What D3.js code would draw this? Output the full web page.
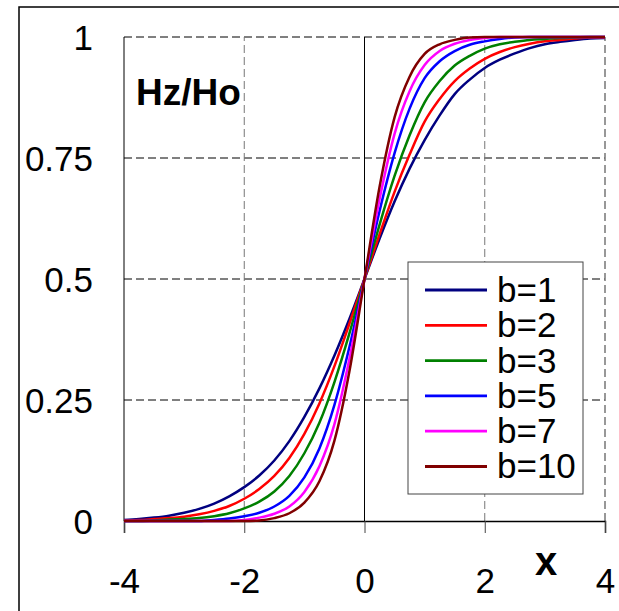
<!DOCTYPE html>
<html lang="en">

<head>
    <meta charset="UTF-8">
    <title>Hz/Ho</title>
    <style>
        body {
            padding: 0;
            margin: 0;
            background: #fff;
        }
    </style>
</head>

<body>
    <script src="https://d3js.org/d3.v7.min.js"></script>
    <script>
        // x positions shared by every curve
        const xs = [-4, -3.75, -3.5, -3.25, -3, -2.75, -2.5, -2.25, -2, -1.75, -1.5, -1.25, -1, -0.75, -0.5, -0.25,
            0, 0.25, 0.5, 0.75, 1, 1.25, 1.5, 1.75, 2, 2.25, 2.5, 2.75, 3, 3.25, 3.5, 3.75, 4]

        // Hz/Ho, one array per b
        const b1 = [0.002, 0.004, 0.007, 0.011, 0.017, 0.025, 0.036, 0.051, 0.070, 0.094, 0.125, 0.165, 0.215, 0.274, 0.342, 0.418,
            0.5, 0.583, 0.660, 0.728, 0.787, 0.838, 0.882, 0.912, 0.936, 0.953, 0.966, 0.977, 0.985, 0.990, 0.994, 0.997, 0.998]
        const b2 = [0.001, 0.002, 0.004, 0.006, 0.009, 0.014, 0.021, 0.031, 0.046, 0.066, 0.093, 0.130, 0.180, 0.243, 0.320, 0.408,
            0.5, 0.592, 0.680, 0.757, 0.825, 0.872, 0.909, 0.935, 0.955, 0.969, 0.979, 0.986, 0.991, 0.994, 0.997, 0.999, 0.999]
        const b3 = [0, 0, 0.001, 0.003, 0.004, 0.006, 0.010, 0.016, 0.026, 0.040, 0.061, 0.093, 0.140, 0.203, 0.287, 0.388,
            0.5, 0.612, 0.713, 0.797, 0.865, 0.909, 0.941, 0.961, 0.976, 0.985, 0.990, 0.994, 0.996, 0.998, 0.999, 1, 1]
        const b5 = [0, 0, 0, 0, 0, 0, 0.002, 0.005, 0.010, 0.017, 0.030, 0.052, 0.090, 0.150, 0.240, 0.360,
            0.5, 0.640, 0.760, 0.852, 0.915, 0.950, 0.971, 0.984, 0.991, 0.996, 0.999, 1, 1, 1, 1, 1, 1]
        const b7 = [0, 0, 0, 0, 0, 0, 0, 0, 0.002, 0.007, 0.015, 0.030, 0.060, 0.113, 0.200, 0.335,
            0.5, 0.665, 0.800, 0.888, 0.942, 0.971, 0.986, 0.994, 0.998, 1, 1, 1, 1, 1, 1, 1, 1]
        const b10 = [0, 0, 0, 0, 0, 0, 0, 0, 0, 0.001, 0.006, 0.016, 0.038, 0.082, 0.166, 0.310,
            0.5, 0.690, 0.834, 0.918, 0.965, 0.985, 0.994, 0.999, 1, 1, 1, 1, 1, 1, 1, 1, 1]

        const names = ['b=1', 'b=2', 'b=3', 'b=5', 'b=7', 'b=10']
        const colors = ['#000080', '#ff0000', '#008000', '#0000ff', '#ff00ff', '#800000']
        const series = [b1, b2, b3, b5, b7, b10]

        // ticks
        const xTicks = [-4, -2, 0, 2, 4]
        const yTicks = [0, 0.25, 0.5, 0.75, 1]
        const yTickLabels = ['0', '0.25', '0.5', '0.75', '1']

        const width = 619
        const height = 611

        const svg = d3.select('body')
            .append('svg')
            .attr('width', width)
            .attr('height', height)
            .style('font-family', '"Liberation Sans", Arial, sans-serif')

        // outer frame, runs off the right and bottom edges
        svg.append('rect')
            .attr('x', 19)
            .attr('y', 7)
            .attr('width', 640)
            .attr('height', 640)
            .attr('fill', 'none')
            .attr('stroke', '#000')
            .attr('stroke-width', 1.5)

        // scales
        let x = d3.scaleLinear().domain([-4, 4]).range([124, 605])
        let y = d3.scaleLinear().domain([0, 1]).range([521, 37])

        // grid
        const grid = svg.append('g')
        grid.selectAll('.hg')
            .data([0.25, 0.5, 0.75, 1])
            .enter()
            .append('line')
            .attr('x1', x(-4))
            .attr('x2', x(4))
            .attr('y1', d => y(d))
            .attr('y2', d => y(d))
            .attr('stroke', '#000')
            .attr('stroke-width', 1)
            .attr('stroke-dasharray', '8,4')
        grid.selectAll('.vg')
            .data([-2, 2, 4])
            .enter()
            .append('line')
            .attr('x1', d => x(d))
            .attr('x2', d => x(d))
            .attr('y1', y(0))
            .attr('y2', y(1))
            .attr('stroke', '#777')
            .attr('stroke-width', d => d === 4 ? 1.5 : 1)
            .attr('stroke-dasharray', '8,4')

        // solid axes: left edge, x = 0 and y = 0
        grid.append('line')
            .attr('x1', x(-4)).attr('x2', x(-4))
            .attr('y1', y(0)).attr('y2', y(1))
            .attr('stroke', '#000')
        grid.append('line')
            .attr('x1', x(0)).attr('x2', x(0))
            .attr('y1', y(0)).attr('y2', y(1))
            .attr('stroke', '#000')

        // x axis with ticks hanging down
        const xAxis = d3.axisBottom(x)
            .tickValues(xTicks)
            .tickSize(12)
            .tickPadding(35)
            .tickFormat(d3.format('d'))
        svg.append('g')
            .attr('transform', `translate(0,${y(0)})`)
            .call(xAxis)
            .call(g => g.select('.domain').attr('stroke', '#000').attr('stroke-width', 1.5))
            .call(g => g.selectAll('.tick line').attr('stroke', '#444'))
            .call(g => g.selectAll('.tick text')
                .attr('fill', '#000')
                .attr('font-size', 35)
                .attr('font-family', '"Liberation Sans", Arial, sans-serif')
                .text(d => d < 0 ? '-' + Math.abs(d) : d))

        // y tick labels
        svg.append('g')
            .selectAll('text')
            .data(yTicks)
            .enter()
            .append('text')
            .attr('x', 93)
            .attr('y', d => y(d))
            .attr('dy', '0.36em')
            .attr('text-anchor', 'end')
            .attr('font-size', 35)
            .text((d, i) => yTickLabels[i])

        // curves
        const line = d3.line()
            .x((d, i) => x(xs[i]))
            .y(d => y(d))
            .curve(d3.curveMonotoneX)

        svg.append('g')
            .selectAll('path')
            .data(series)
            .enter()
            .append('path')
            .attr('d', line)
            .attr('fill', 'none')
            .attr('stroke', (d, i) => colors[i])
            .attr('stroke-width', 2.5)

        // labels
        svg.append('text')
            .attr('x', 136)
            .attr('y', 105)
            .attr('font-size', 37)
            .attr('font-weight', 'bold')
            .text('Hz/Ho')

        svg.append('text')
            .attr('x', 546)
            .attr('y', 575)
            .attr('text-anchor', 'middle')
            .attr('font-size', 40)
            .attr('font-weight', 'bold')
            .text('x')

        // legend
        const legend = svg.append('g')
        legend.append('rect')
            .attr('x', 408)
            .attr('y', 262)
            .attr('width', 175)
            .attr('height', 232)
            .attr('fill', '#fff')
            .attr('stroke', '#444')
            .attr('stroke-width', 1)

        const item = legend.selectAll('.item')
            .data(names)
            .enter()
            .append('g')
            .attr('transform', (d, i) => `translate(0,${290 + i * 35.3})`)
        item.append('line')
            .attr('x1', 425)
            .attr('x2', 487)
            .attr('stroke', (d, i) => colors[i])
            .attr('stroke-width', 2.8)
        item.append('text')
            .attr('x', 497)
            .attr('dy', '0.34em')
            .attr('font-size', 35)
            .text(d => d)
    </script>
</body>

</html>
